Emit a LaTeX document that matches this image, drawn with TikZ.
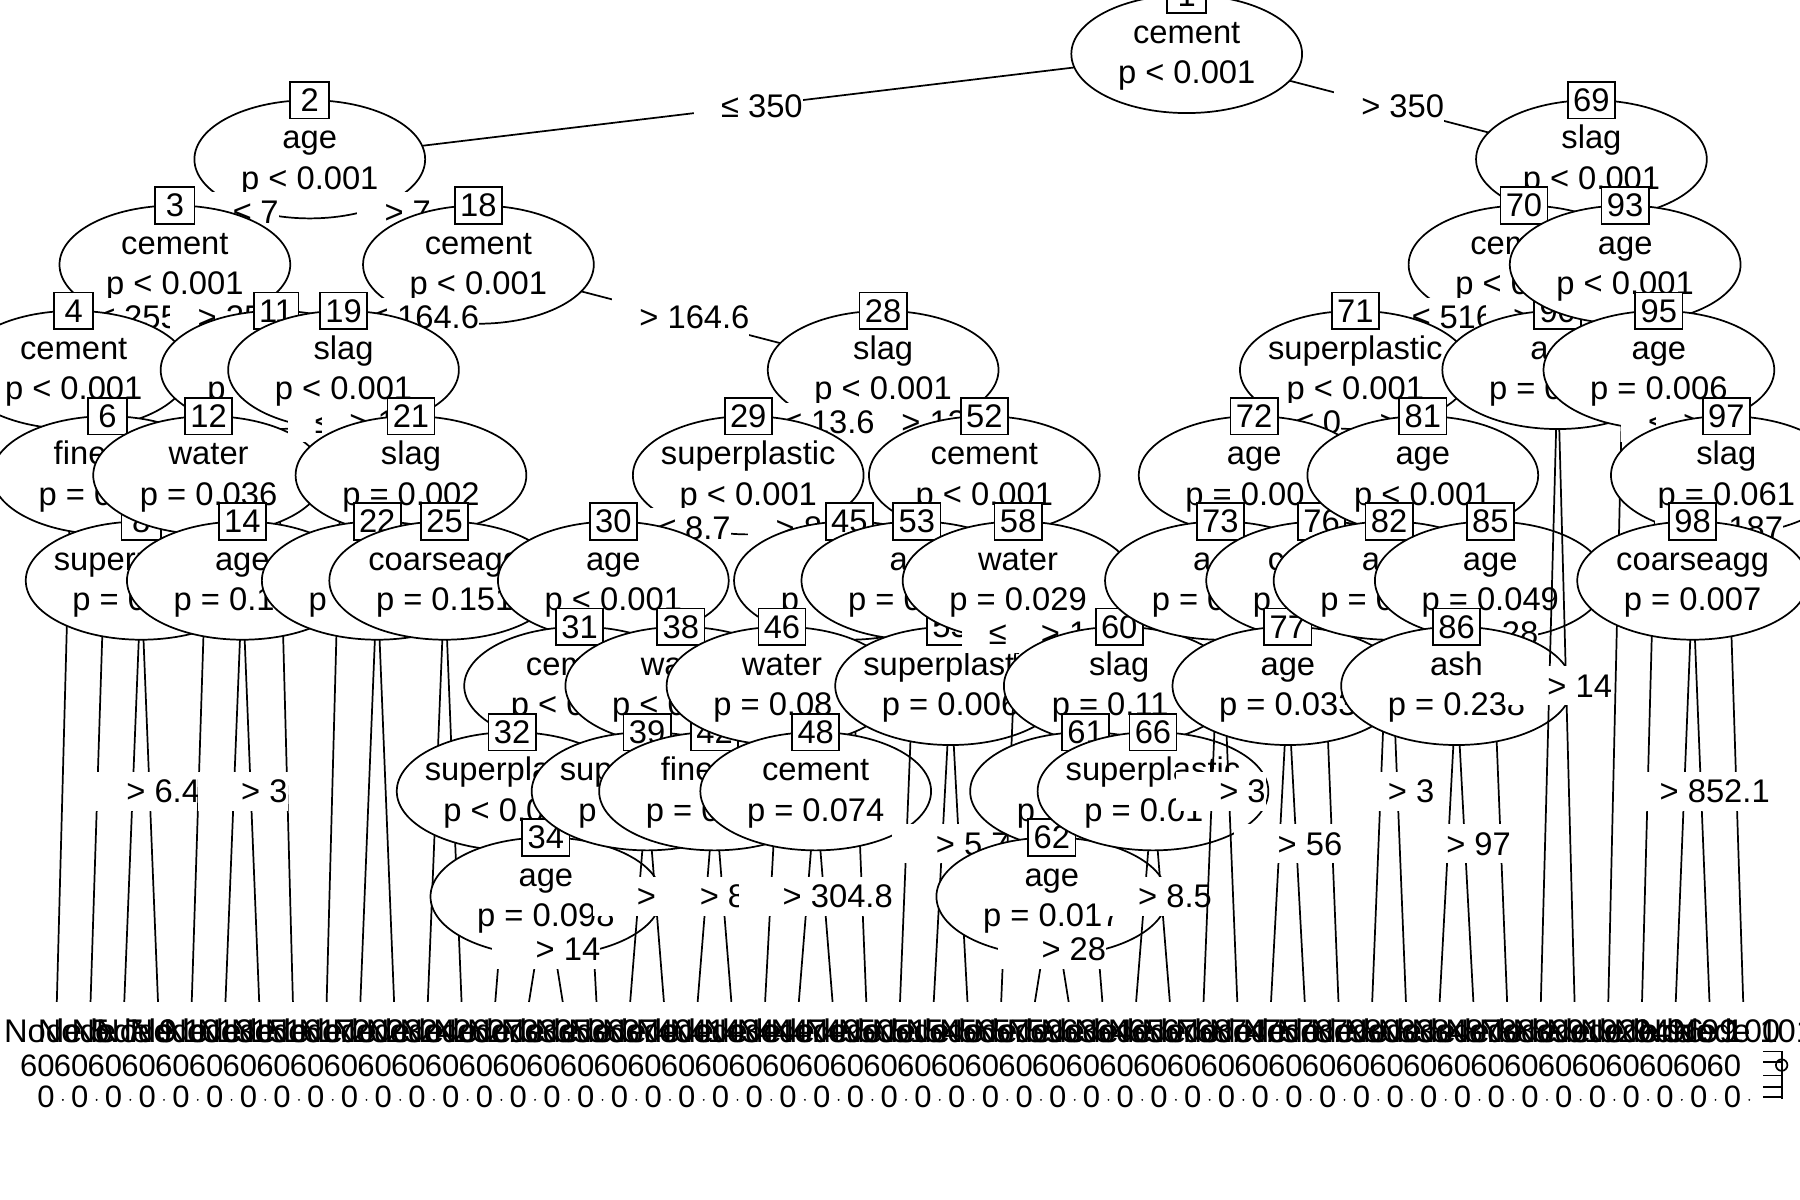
\documentclass[tikz,border=0pt]{standalone}
\usepackage{fontspec}
\setmainfont{Liberation Sans}
\usepackage{tikz}
\usetikzlibrary{shapes.geometric}

\newcommand{\fsz}{\fontsize{28.5}{34}\selectfont}
\newcommand{\asz}{\fontsize{27}{32}\selectfont}
% ellipse, split variable, p-value and id box of one inner node
\newcommand{\inode}[3]{%
  \node[inner] (e#1) at (n#1) {};
  \node[vname, anchor=base] (v#1) at ([yshift=9pt]n#1) {#2};
  \node[vname, anchor=base] (p#1) at ([yshift=-26pt]n#1) {#3};
  \node[idbox] (b#1) at ([yshift=51.5pt]n#1) {#1};}
% split label on an edge
\newcommand{\elab}[4]{%
  \path (#1) -- node[lab, pos=#3] (l#1#2) {\phantom{0} #4} (#2);}

\begin{document}
\begin{tikzpicture}[x=29.38pt,y=-91.75pt,
  edge/.style={line width=1.5pt},
  inner/.style={ellipse, draw, line width=1.5pt, fill=white, minimum width=201pt, minimum height=103pt, inner sep=0pt},
  vname/.style={font=\fsz, inner sep=0pt},
  idbox/.style={draw, line width=1.5pt, fill=white, font=\fsz, minimum width=34pt, minimum height=32pt, inner xsep=4.7pt, inner ysep=0pt},
  lab/.style={fill=white, inner sep=0pt, minimum height=34pt, font=\fsz},
  ttl/.style={font=\fsz, inner sep=0pt},
  axl/.style={font=\asz, inner sep=0pt}]

\clip (-1.6848,-0.5123) rectangle (51.684,10.877);

% inner nodes: id / leaf position / depth
\foreach \k/\i/\d in {1/33.5/0, 2/7.5/1, 3/3.5/2, 4/0.5/3, 6/1.5/4, 8/2.5/5, 11/6.5/3, 12/4.5/4, 14/5.5/5,
  18/12.5/2, 19/8.5/3, 21/10.5/4, 22/9.5/5, 25/11.5/5, 28/24.5/3, 29/20.5/4, 30/16.5/5, 31/15.5/6,
  32/13.5/7, 34/14.5/8, 38/18.5/6, 39/17.5/7, 42/19.5/7, 45/23.5/5, 46/21.5/6, 48/22.5/7, 52/27.5/4,
  53/25.5/5, 55/26.5/6, 58/28.5/5, 60/31.5/6, 61/30.5/7, 62/29.5/8, 66/32.5/7, 69/45.5/1, 70/43.5/2,
  71/38.5/3, 72/35.5/4, 73/34.5/5, 76/37.5/5, 77/36.5/6, 81/40.5/4, 82/39.5/5, 85/42.5/5, 86/41.5/6,
  90/44.5/3, 93/46.5/2, 95/47.5/3, 97/49.5/4, 98/48.5/5}
  \coordinate (n\k) at (\i,\d);
% terminal nodes
\foreach \i/\t in {0/5,1/7,2/9,3/10,4/13,5/15,6/16,7/17,8/20,9/23,10/24,11/26,12/27,13/33,14/35,15/36,
  16/37,17/40,18/41,19/43,20/44,21/47,22/49,23/50,24/51,25/54,26/56,27/57,28/59,29/63,30/64,31/65,32/67,
  33/68,34/74,35/75,36/78,37/79,38/80,39/83,40/84,41/87,42/88,43/89,44/91,45/92,46/94,47/96,48/99,
  49/100,50/101}
  \coordinate (t\t) at (\i,9);

% 1
\draw[edge] (n1) -- (n2) (n1) -- (n69);
\inode{1}{cement}{p < 0.001}
\elab{n1}{n2}{.5}{≤ 350}\elab{n1}{n69}{.5}{> 350}
% 2
\draw[edge] (n2) -- (n3) (n2) -- (n18);
\inode{2}{age}{p < 0.001}
\elab{n2}{n3}{.5}{≤ 7}\elab{n2}{n18}{.5}{> 7}
% 3
\draw[edge] (n3) -- (n4) (n3) -- (n11);
\inode{3}{cement}{p < 0.001}
\elab{n3}{n4}{.5}{≤ 255}\elab{n3}{n11}{.5}{> 255}
% 4
\draw[edge] (n4) -- (t5) (n4) -- (n6);
\inode{4}{cement}{p < 0.001}
% 6
\draw[edge] (n6) -- (t7) (n6) -- (n8);
\inode{6}{fineagg}{p = 0\phantom{.000}}
% 8
\draw[edge] (n8) -- (t9) (n8) -- (t10);
\inode{8}{superplastic}{p = 0\phantom{.000}}
\elab{n8}{t9}{.5}{≤ 6.4}\elab{n8}{t10}{.5}{> 6.4}
% 11
\draw[edge] (n11) -- (n12) (n11) -- (t17);
\inode{11}{\phantom{water}}{p\phantom{~= 0.000}}
% 12
\draw[edge] (n12) -- (t13) (n12) -- (n14);
\inode{12}{water}{p = 0.036}
% 14
\draw[edge] (n14) -- (t15) (n14) -- (t16);
\inode{14}{age}{p = 0.1\phantom{00}}
\elab{n14}{t15}{.5}{≤ 3}\elab{n14}{t16}{.5}{> 3}
% 18
\draw[edge] (n18) -- (n19) (n18) -- (n28);
\inode{18}{cement}{p < 0.001}
\elab{n18}{n19}{.5}{≤ 164.6}\elab{n18}{n28}{.5}{> 164.6}
% 19
\draw[edge] (n19) -- (t20) (n19) -- (n21);
\inode{19}{slag}{p < 0.001}
\elab{n19}{t20}{.0833}{≤\phantom{~100}}\elab{n19}{n21}{.5}{> 1\phantom{00}}
% 21
\draw[edge] (n21) -- (n22) (n21) -- (n25);
\inode{21}{slag}{p = 0.002}
% 22
\draw[edge] (n22) -- (t23) (n22) -- (t24);
\inode{22}{\phantom{cement}}{p\phantom{~= 0.000}}
% 25
\draw[edge] (n25) -- (t26) (n25) -- (t27);
\inode{25}{coarseagg}{p = 0.151}
% 28
\draw[edge] (n28) -- (n29) (n28) -- (n52);
\inode{28}{slag}{p < 0.001}
\elab{n28}{n29}{.5}{≤ 13.6}\elab{n28}{n52}{.5}{> 13.6}
% 29
\draw[edge] (n29) -- (n30) (n29) -- (n45);
\inode{29}{superplastic}{p < 0.001}
\elab{n29}{n30}{.5}{≤ 8.7}\elab{n29}{n45}{.5}{> 8.7}
% 30
\draw[edge] (n30) -- (n31) (n30) -- (n38);
\inode{30}{age}{p < 0.001}
% 31
\draw[edge] (n31) -- (n32) (n31) -- (t37);
\inode{31}{cement}{p < 0.001}
% 32
\draw[edge] (n32) -- (t33) (n32) -- (n34);
\inode{32}{superplastic}{p < 0.001}
% 34
\draw[edge] (n34) -- (t35) (n34) -- (t36);
\inode{34}{age}{p = 0.098}
\elab{n34}{t35}{.5}{≤ 14}\elab{n34}{t36}{.5}{> 14}
% 38
\draw[edge] (n38) -- (n39) (n38) -- (n42);
\inode{38}{water}{p < 0.001}
% 39
\draw[edge] (n39) -- (t40) (n39) -- (t41);
\inode{39}{superplastic}{p\phantom{~= 0.000}}
\elab{n39}{t40}{.5}{≤\phantom{~00}}\elab{n39}{t41}{.5}{>\phantom{~00}}
% 42
\draw[edge] (n42) -- (t43) (n42) -- (t44);
\inode{42}{fineagg}{p = 0\phantom{.000}}
\elab{n42}{t43}{.5}{≤ 8\phantom{.0}}\elab{n42}{t44}{.5}{> 8\phantom{.0}}
% 45
\draw[edge] (n45) -- (n46) (n45) -- (t51);
\inode{45}{\phantom{water}}{p\phantom{~= 0.000}}
% 46
\draw[edge] (n46) -- (t47) (n46) -- (n48);
\inode{46}{water}{p = 0.08\phantom{0}}
% 48
\draw[edge] (n48) -- (t49) (n48) -- (t50);
\inode{48}{cement}{p = 0.074}
\elab{n48}{t49}{.5}{≤ 304.8}\elab{n48}{t50}{.5}{> 304.8}
% 52
\draw[edge] (n52) -- (n53) (n52) -- (n58);
\inode{52}{cement}{p < 0.001}
% 53
\draw[edge] (n53) -- (t54) (n53) -- (n55);
\inode{53}{a\phantom{ge}}{p = 0\phantom{.000}}
% 55
\draw[edge] (n55) -- (t56) (n55) -- (t57);
\inode{55}{superplastic}{p = 0.006}
\elab{n55}{t56}{.5}{≤ 5.7}\elab{n55}{t57}{.5}{> 5.7}
% 58
\draw[edge] (n58) -- (t59) (n58) -- (n60);
\inode{58}{water}{p = 0.029}
\elab{n58}{t59}{.125}{≤\phantom{~100}}\elab{n58}{n60}{.5}{> 1\phantom{00}}
% 60
\draw[edge] (n60) -- (n61) (n60) -- (n66);
\inode{60}{slag}{p = 0.11\phantom{0}}
% 61
\draw[edge] (n61) -- (n62) (n61) -- (t65);
\inode{61}{\phantom{water}}{p\phantom{~= 0.000}}
% 62
\draw[edge] (n62) -- (t63) (n62) -- (t64);
\inode{62}{age}{p = 0.017}
\elab{n62}{t63}{.5}{≤ 28}\elab{n62}{t64}{.5}{> 28}
% 66
\draw[edge] (n66) -- (t67) (n66) -- (t68);
\inode{66}{superplastic}{p = 0.01\phantom{0}}
\elab{n66}{t67}{.5}{≤ 8.5}\elab{n66}{t68}{.5}{> 8.5}
% 69
\draw[edge] (n69) -- (n70) (n69) -- (n93);
\inode{69}{slag}{p < 0.001}
% 70
\draw[edge] (n70) -- (n71) (n70) -- (n90);
\inode{70}{cement}{p < 0.001}
\elab{n70}{n71}{.5}{≤ 516}\elab{n70}{n90}{.5}{> 516}
% 71
\draw[edge] (n71) -- (n72) (n71) -- (n81);
\inode{71}{superplastic}{p < 0.001}
\elab{n71}{n72}{.5}{≤ 0}\elab{n71}{n81}{.5}{> 0}
% 72
\draw[edge] (n72) -- (n73) (n72) -- (n76);
\inode{72}{age}{p = 0.00\phantom{0}}
% 73
\draw[edge] (n73) -- (t74) (n73) -- (t75);
\inode{73}{a\phantom{ge}}{p = 0\phantom{.000}}
\elab{n73}{t74}{.5}{≤ 3}\elab{n73}{t75}{.5}{> 3}
% 76
\draw[edge] (n76) -- (n77) (n76) -- (t80);
\inode{76}{c\phantom{ement}}{p\phantom{~= 0.000}}
% 77
\draw[edge] (n77) -- (t78) (n77) -- (t79);
\inode{77}{age}{p = 0.033}
\elab{n77}{t78}{.5}{≤ 56}\elab{n77}{t79}{.5}{> 56}
% 81
\draw[edge] (n81) -- (n82) (n81) -- (n85);
\inode{81}{age}{p < 0.001}
% 82
\draw[edge] (n82) -- (t83) (n82) -- (t84);
\inode{82}{a\phantom{ge}}{p = 0\phantom{.000}}
\elab{n82}{t83}{.5}{≤ 3}\elab{n82}{t84}{.5}{> 3}
% 85
\draw[edge] (n85) -- (n86) (n85) -- (t89);
\inode{85}{age}{p = 0.049}
\elab{n85}{n86}{.5}{≤ 28}\elab{n85}{t89}{.125}{> 28}
% 86
\draw[edge] (n86) -- (t87) (n86) -- (t88);
\inode{86}{ash}{p = 0.238}
\elab{n86}{t87}{.5}{≤ 97}\elab{n86}{t88}{.5}{> 97}
% 90
\draw[edge] (n90) -- (t91) (n90) -- (t92);
\inode{90}{a\phantom{ge}}{p = 0\phantom{.000}}
\elab{n90}{t91}{.5}{≤ 14}\elab{n90}{t92}{.5}{> 14}
% 93
\draw[edge] (n93) -- (t94) (n93) -- (n95);
\inode{93}{age}{p < 0.001}
% 95
\draw[edge] (n95) -- (t96) (n95) -- (n97);
\inode{95}{age}{p = 0.006}
\elab{n95}{t96}{.0833}{≤\phantom{~0}}\elab{n95}{n97}{.5}{>\phantom{~0}}
% 97
\draw[edge] (n97) -- (n98) (n97) -- (t101);
\inode{97}{slag}{p = 0.061}
\elab{n97}{n98}{.5}{≤ 187}\elab{n97}{t101}{.1}{> 187}
% 98
\draw[edge] (n98) -- (t99) (n98) -- (t100);
\inode{98}{coarseagg}{p = 0.007}
\elab{n98}{t99}{.5}{≤ 852.1}\elab{n98}{t100}{.5}{> 852.1}

% terminal panels
\foreach \i/\t in {0/5,1/7,2/9,3/10,4/13,5/15,6/16,7/17,8/20,9/23,10/24,11/26,12/27,13/33,14/35,15/36,
  16/37,17/40,18/41,19/43,20/44,21/47,22/49,23/50,24/51,25/54,26/56,27/57,28/59,29/63,30/64,31/65,32/67,
  33/68,34/74,35/75,36/78,37/79,38/80,39/83,40/84,41/87,42/88,43/89,44/91,45/92,46/94,47/96,48/99,
  49/100,50/101}{
  \node[ttl, anchor=base] (ttl\t) at (\i,9.384) {Node \t};
  \node[axl, anchor=base east] (hi\t) at (\i-0.058,9.711) {60};
  \node[axl, anchor=base east] (lo\t) at (\i-0.058,10.005) {0};
  \fill (\i+0.18,9.93) circle (0.9pt);
}
\draw[edge] (51.14,9.47) -- (51.14,9.92);
\foreach \d in {9.47,9.57,9.70,9.81,9.90}
  \draw[edge] (50.6,\d) -- (51.14,\d);
\draw[edge] (51.14,9.60) circle (5pt);

\end{tikzpicture}
\end{document}
